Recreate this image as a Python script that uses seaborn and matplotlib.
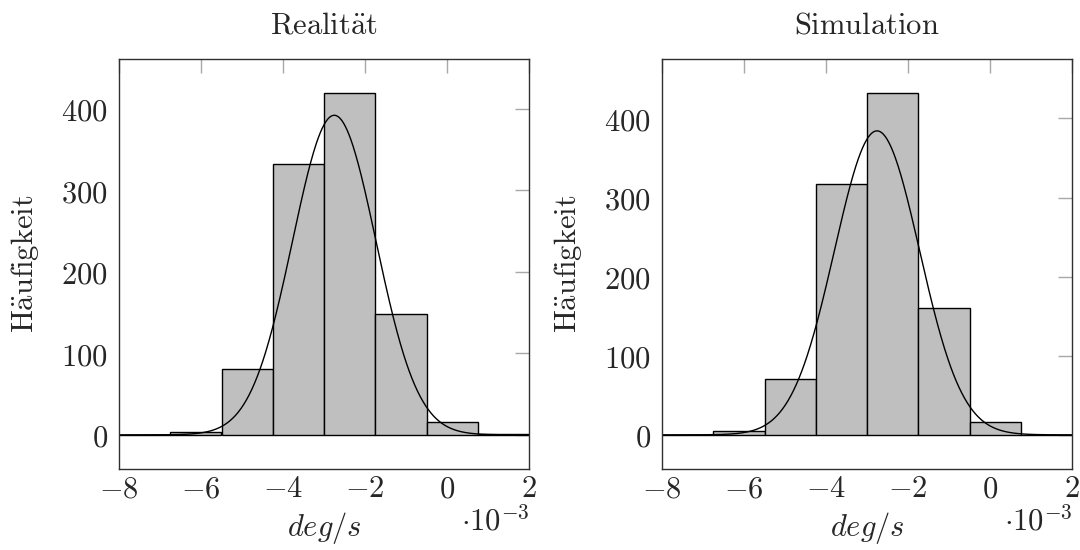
import numpy as np
import pandas as pd
import matplotlib
matplotlib.use("Agg")
import matplotlib.pyplot as plt
import seaborn as sns
from matplotlib.ticker import FixedLocator, FuncFormatter

# Histogram bins (deg/s) shared by both panels
bin_edges = [-8.0e-3, -6.75e-3, -5.5e-3, -4.25e-3, -3.0e-3, -1.75e-3, -0.5e-3, 0.75e-3, 2.0e-3]

# Counts per bin
counts_real = [0, 3, 81, 332, 419, 148, 16, 1]
counts_sim = [0, 5, 70, 317, 432, 160, 16, 0]

# Fitted normal distributions (mean, std) in deg/s
fit_real = (-2.75e-3, 1.018e-3)
fit_sim = (-2.756e-3, 1.038e-3)

n_samples_real = sum(counts_real)
n_samples_sim = sum(counts_sim)

titles = [r"$\mathrm{Realit\ddot{a}t}$", r"$\mathrm{Simulation}$"]
xticks = [-8e-3, -6e-3, -4e-3, -2e-3, 0.0, 2e-3]
yticks = [0, 100, 200, 300, 400]

FS = 22

sns.set_style("white")
plt.rcParams["mathtext.fontset"] = "cm"
plt.rcParams["font.family"] = ["DejaVu Serif"]
plt.rcParams["font.size"] = FS

fig = plt.figure(figsize=(10.8, 5.5), dpi=100)
ax_w, ax_h = 410 / 1080, 410 / 550
bottom = (550 - 469) / 550
axes = [fig.add_axes([119 / 1080, bottom, ax_w, ax_h]),
        fig.add_axes([662 / 1080, bottom, ax_w, ax_h])]

centers = [(a + b) / 2 for a, b in zip(bin_edges[:-1], bin_edges[1:])]
datasets = [(counts_real, fit_real, n_samples_real), (counts_sim, fit_sim, n_samples_sim)]

for ax, (counts, (mu, sd), n), title in zip(axes, datasets, titles):
    df = pd.DataFrame({"x": centers, "n": counts})
    sns.histplot(data=df, x="x", weights="n", bins=bin_edges, ax=ax,
                 color="#bfbfbf", edgecolor="black", linewidth=1.0, alpha=1.0)

    # Normal fit curve, scaled as count per 1e-3 deg/s
    xs = np.linspace(bin_edges[0], bin_edges[-1], 600)
    ys = n * 1e-3 / (sd * np.sqrt(2 * np.pi)) * np.exp(-0.5 * ((xs - mu) / sd) ** 2)
    sns.lineplot(x=xs, y=ys, ax=ax, color="black", linewidth=1.0)

    top = max(counts)
    ax.set_xlim(bin_edges[0], bin_edges[-1])
    ax.set_ylim(-0.1 * top, 1.1 * top)

    ax.xaxis.set_major_locator(FixedLocator(xticks))
    ax.yaxis.set_major_locator(FixedLocator(yticks))
    ax.xaxis.set_major_formatter(FuncFormatter(lambda v, p: r"$%d$" % round(v * 1e3)))
    ax.yaxis.set_major_formatter(FuncFormatter(lambda v, p: r"$%d$" % round(v)))
    ax.tick_params(axis="both", direction="in", length=10, width=1.0, color="#a8a8a8",
                   top=True, right=True, labelsize=FS)
    ax.tick_params(axis="x", pad=3)
    ax.tick_params(axis="y", pad=8)

    for sp in ax.spines.values():
        sp.set_visible(True)
        sp.set_color("#303030")
        sp.set_linewidth(1.0)

    ax.set_xlabel(r"$deg/s$", fontsize=FS)
    ax.xaxis.set_label_coords(0.5, -(528 - 469) / 410)
    ax.xaxis.label.set_va("center")
    ax.set_ylabel(r"$\mathrm{H\ddot{a}ufigkeit}$", fontsize=FS)
    ax.yaxis.set_label_coords(-(119 - 25) / 410, 0.5)
    ax.yaxis.label.set_va("center")
    ax.text(0.5, 1 + 26 / 410, title, transform=ax.transAxes, ha="center",
            va="baseline", fontsize=FS)
    ax.text((495 - 119) / 410, -(522 - 469) / 410, r"$\cdot 10^{-3}$", transform=ax.transAxes,
            ha="center", va="center", fontsize=FS)

fig.savefig("out.png", dpi=100)
